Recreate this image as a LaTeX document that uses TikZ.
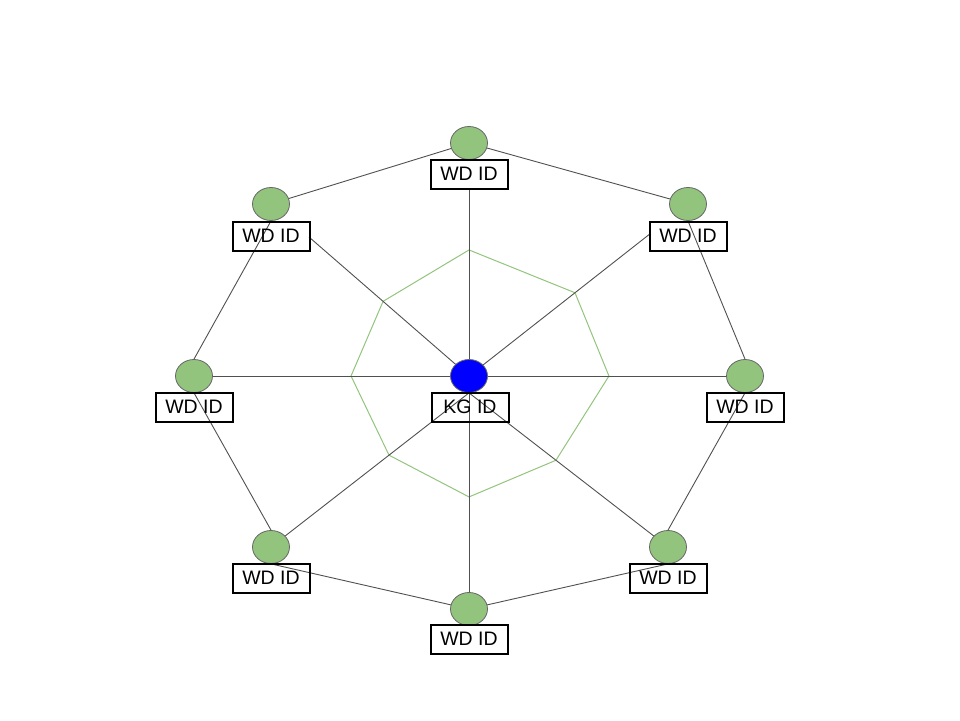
\documentclass[tikz,border=0pt]{standalone}
\usepackage{fontspec}
\setmainfont{Liberation Sans}
\usetikzlibrary{shapes.geometric,backgrounds,calc}
\definecolor{nodegreen}{RGB}{147,196,125}
\definecolor{edgegray}{RGB}{80,80,80}
\definecolor{ringgreen}{RGB}{147,196,125}
\begin{document}
\begin{tikzpicture}[x=1pt,y=-1pt,
 wdnode/.style={ellipse,minimum width=37pt,minimum height=33pt,inner sep=0pt,fill=nodegreen,draw=gray!80!black,line width=0.8pt},
 kgnode/.style={wdnode,fill=blue},
 idbox/.style={draw=black,line width=2pt,minimum width=77pt,minimum height=29pt,inner sep=0pt,font=\fontsize{19.5}{21}\selectfont},
 edge/.style={draw=edgegray,line width=0.9pt},
 ring/.style={draw=ringgreen,line width=1pt}]
\useasboundingbox (0,0) rectangle (960,720);
% nodes
\node[kgnode] (c)  at (469,376) {};
\node[wdnode] (t)  at (469,143) {};
\node[wdnode] (tl) at (271,204) {};
\node[wdnode] (tr) at (688,204) {};
\node[wdnode] (l)  at (194,376) {};
\node[wdnode] (r)  at (745,376) {};
\node[wdnode] (bl) at (271,547) {};
\node[wdnode] (br) at (668,547) {};
\node[wdnode] (b)  at (469,609) {};
% labels
\node[idbox] (clab)  at (470,407) {KG ID};
\node[idbox] (tlab)  at (469,174) {WD ID};
\node[idbox] (tllab) at (271,236) {WD ID};
\node[idbox] (trlab) at (688,236) {WD ID};
\node[idbox] (llab)  at (194,407) {WD ID};
\node[idbox] (rlab)  at (745,407) {WD ID};
\node[idbox] (bllab) at (271,578) {WD ID};
\node[idbox] (brlab) at (668,578) {WD ID};
\node[idbox] (blab)  at (469,639) {WD ID};
\begin{scope}[on background layer]
% inner octagon
\draw[ring] ($(c)!0.541!(t)$) -- ($(c)!0.484!(tr)$) -- ($(c)!0.507!(r)$)
  -- ($(c.south)!0.437!(br)$) -- ($(c)!0.519!(b)$) -- ($(c.south)!0.404!(bl)$)
  -- ($(c)!0.429!(l)$) -- ($(c)!0.434!(tl)$) -- cycle;
% spokes
\draw[edge] (c.center) -- (tlab.south);
\draw[edge] (c.center) -- ($(c)!0.808!(tl)$);
\draw[edge] (c.center) -- ($(c)!0.826!(tr)$);
\draw[edge] (c.center) -- (l.center);
\draw[edge] (c.center) -- (r.center);
\draw[edge] (c.south) -- (bl.center);
\draw[edge] (c.south) -- (br.center);
\draw[edge] (c.center) -- (b.center);
% outer ring
\draw[edge] (tl.center) -- (t.center);
\draw[edge] (t.center) -- (tr.center);
\draw[edge] (tr.south) -- (r.north);
\draw[edge] (r.south) -- (br.north);
\draw[edge] (br.south) -- (b.center);
\draw[edge] (bl.south) -- (b.center);
\draw[edge] (l.south) -- (bl.north);
\draw[edge] (tl.south) -- (l.north);
\end{scope}
\end{tikzpicture}
\end{document}
